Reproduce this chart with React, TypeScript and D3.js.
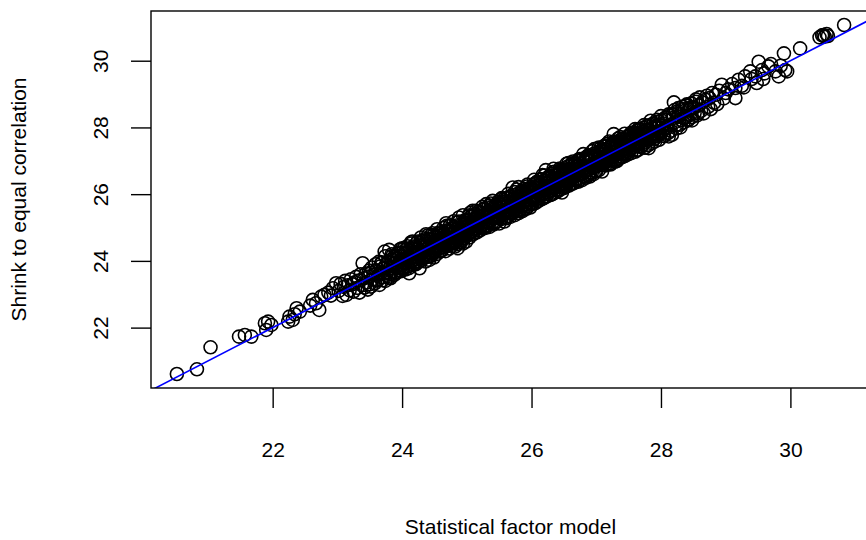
import React, { useEffect, useRef } from "react";
import * as d3 from "d3";

// each pair is [statistical factor model, shrink to equal correlation]
const lowTail = [
  [20.52, 20.61], [20.83, 20.75], [21.04, 21.41], [21.48, 21.73], [21.57, 21.78],
  [21.67, 21.73], [21.88, 22.13], [21.93, 22.18], [21.98, 22.08], [21.9, 21.93],
];

const from22 = [
  [22.24, 22.18], [22.26, 22.33], [22.31, 22.23], [22.37, 22.58], [22.42, 22.48], [22.34, 22.4],
  [22.62, 22.83], [22.67, 22.73], [22.72, 22.53], [22.75, 22.93], [22.58, 22.66], [22.8, 22.98],
  [22.86, 23.05], [22.93, 23.18], [22.98, 23.33], [22.9, 22.96],
  [23.02, 23.1], [23.05, 23.31], [23.08, 22.95], [23.1, 23.22], [23.12, 23.4], [23.14, 22.98],
  [23.16, 23.27], [23.19, 23.12], [23.21, 23.45], [23.23, 23.3], [23.25, 23.08], [23.27, 23.36],
  [23.29, 23.52], [23.31, 23.19], [23.33, 23.41], [23.34, 23.05], [23.36, 23.6], [23.38, 23.27],
  [23.39, 23.93], [23.41, 23.48], [23.42, 23.2], [23.44, 23.62], [23.45, 23.35], [23.47, 23.14],
  [23.48, 23.53], [23.49, 23.71], [23.5, 23.3],
  [23.51, 23.64], [23.52, 23.23], [23.53, 23.8], [23.55, 23.45], [23.56, 23.58], [23.58, 23.33],
  [23.59, 23.9], [23.6, 23.7], [23.62, 23.42], [23.63, 23.55], [23.65, 23.28], [23.66, 23.83],
  [23.67, 23.62], [23.69, 23.95], [23.7, 23.51], [23.71, 23.76], [23.73, 24.28], [23.74, 23.4],
  [23.75, 23.88], [23.76, 23.66], [23.78, 23.98], [23.79, 23.55], [23.8, 24.33], [23.81, 23.79],
  [23.82, 23.48], [23.84, 24.05], [23.85, 23.7], [23.86, 23.92], [23.88, 23.58], [23.89, 24.14],
  [23.9, 23.83], [23.91, 23.64], [23.93, 24.08], [23.94, 23.9], [23.95, 24.22], [23.96, 23.72],
  [23.97, 24.0], [23.98, 23.69], [23.99, 24.17], [23.99, 23.86],
];

const from24 = [
  [24.0, 24.25], [24.01, 23.79], [24.02, 24.06], [24.03, 24.38], [24.04, 23.92], [24.05, 23.74],
  [24.06, 24.21], [24.07, 24.02], [24.08, 24.44], [24.09, 23.84], [24.1, 24.13], [24.11, 23.63],
  [24.12, 24.3], [24.13, 23.96], [24.14, 24.52], [24.15, 24.08], [24.16, 24.58], [24.17, 23.88],
  [24.18, 24.27], [24.19, 24.03], [24.2, 24.41], [24.21, 23.99], [24.22, 24.19], [24.23, 24.55],
  [24.24, 23.95], [24.25, 24.34], [24.26, 24.1], [24.27, 23.78], [24.28, 24.47], [24.29, 24.21],
  [24.3, 24.02], [24.31, 24.6], [24.32, 24.29], [24.33, 24.08], [24.34, 24.43], [24.35, 24.17],
  [24.36, 23.98], [24.37, 24.8], [24.38, 24.36], [24.39, 24.12], [24.4, 24.52], [24.41, 24.25],
  [24.42, 24.03], [24.43, 24.66], [24.44, 24.31], [24.45, 24.15], [24.46, 24.49], [24.47, 24.83],
  [24.47, 24.22], [24.48, 24.38], [24.49, 24.1], [24.5, 24.62],
  [24.51, 24.3], [24.52, 24.72], [24.53, 24.45], [24.54, 24.21], [24.55, 24.58], [24.56, 24.36],
  [24.57, 24.8], [24.58, 24.28], [24.59, 24.66], [24.6, 24.47], [24.61, 24.32], [24.62, 24.85],
  [24.63, 24.55], [24.64, 24.4], [24.65, 24.73], [24.66, 24.49], [24.67, 24.29], [24.68, 25.13],
  [24.69, 24.62], [24.7, 24.44], [24.71, 24.91], [24.72, 24.58], [24.73, 24.37], [24.74, 24.79],
  [24.75, 24.53], [24.76, 24.95], [24.77, 24.45], [24.78, 24.68], [24.79, 24.52], [24.8, 25.02],
  [24.81, 24.6], [24.82, 24.43], [24.83, 24.87], [24.84, 24.66], [24.85, 24.5], [24.86, 24.38],
  [24.86, 24.98], [24.87, 24.72], [24.88, 25.3], [24.89, 24.61], [24.9, 24.83], [24.91, 24.55],
  [24.92, 25.08], [24.93, 24.76], [24.94, 24.52], [24.95, 24.94], [24.96, 24.69], [24.97, 25.16],
  [24.98, 24.8], [24.99, 24.58], [25.0, 25.04],
];

const from25 = [
  [25.01, 24.79], [25.02, 25.22], [25.03, 24.93], [25.04, 24.7], [25.05, 25.12], [25.06, 24.88],
  [25.07, 25.35], [25.08, 25.01], [25.09, 25.5], [25.1, 24.82], [25.11, 25.18], [25.12, 24.96],
  [25.13, 25.4], [25.14, 25.07], [25.15, 24.85], [25.16, 25.29], [25.17, 25.03], [25.18, 25.48],
  [25.19, 24.92], [25.2, 25.21], [25.21, 25.0], [25.22, 25.44], [25.23, 25.13], [25.24, 24.97],
  [25.25, 25.36], [25.26, 25.09], [25.27, 25.57], [25.28, 25.2], [25.29, 24.99], [25.3, 25.7],
  [25.31, 25.3], [25.32, 25.07], [25.33, 25.49], [25.34, 25.16], [25.35, 25.02], [25.36, 25.41],
  [25.37, 25.22], [25.38, 25.61], [25.39, 25.12], [25.4, 25.33], [25.41, 25.09], [25.42, 25.54],
  [25.43, 25.28], [25.44, 25.15], [25.45, 25.68], [25.46, 25.4], [25.47, 25.19], [25.48, 25.58],
  [25.49, 25.31], [25.5, 25.12],
  [25.51, 25.73], [25.52, 25.44], [25.53, 25.25], [25.54, 25.62], [25.55, 25.38], [25.56, 25.83],
  [25.57, 25.49], [25.58, 25.18], [25.59, 25.7], [25.6, 25.42], [25.61, 25.28], [25.62, 25.88],
  [25.63, 25.56], [25.64, 25.35], [25.65, 25.76], [25.66, 25.5], [25.67, 25.32], [25.68, 25.93],
  [25.69, 25.61], [25.7, 25.44], [25.71, 26.2], [25.72, 25.8], [25.73, 25.52], [25.74, 25.37],
  [25.75, 25.98], [25.76, 25.67], [25.77, 25.48], [25.78, 25.87], [25.79, 25.59], [25.8, 25.43],
  [25.81, 26.04], [25.82, 25.73], [25.83, 25.55], [25.84, 25.95], [25.85, 25.62], [25.86, 25.49],
  [25.87, 26.1], [25.88, 25.79], [25.89, 25.58], [25.9, 25.99], [25.91, 25.71], [25.92, 25.56],
  [25.93, 26.15], [25.94, 25.84], [25.95, 25.64], [25.96, 26.05], [25.97, 25.77], [25.98, 25.6],
  [25.99, 26.21], [26.0, 25.89],
];

const from26 = [
  [26.01, 25.7], [26.02, 26.12], [26.03, 25.84], [26.04, 26.3], [26.05, 25.96], [26.06, 25.73],
  [26.07, 26.2], [26.08, 25.91], [26.09, 26.38], [26.1, 26.04], [26.11, 25.8], [26.12, 26.27],
  [26.13, 25.98], [26.14, 26.45], [26.15, 26.09], [26.16, 25.85], [26.17, 26.33], [26.18, 26.02],
  [26.19, 25.88], [26.2, 26.4], [26.21, 26.14], [26.22, 26.72], [26.23, 25.93], [26.24, 26.35],
  [26.25, 26.06], [26.26, 26.52], [26.27, 26.19], [26.28, 25.97], [26.29, 26.42], [26.3, 26.11],
  [26.31, 26.6], [26.32, 26.25], [26.33, 26.01], [26.34, 26.48], [26.35, 26.17], [26.36, 26.67],
  [26.37, 26.3], [26.38, 26.06], [26.39, 26.55], [26.4, 26.23], [26.41, 26.09], [26.42, 26.61],
  [26.43, 26.36], [26.44, 26.14], [26.45, 26.7], [26.46, 26.28], [26.47, 26.05], [26.48, 26.57],
  [26.49, 26.33], [26.5, 26.18],
  [26.51, 26.74], [26.52, 26.41], [26.53, 26.22], [26.54, 26.63], [26.55, 26.35], [26.56, 26.83],
  [26.57, 26.48], [26.58, 26.26], [26.59, 26.7], [26.6, 26.43], [26.61, 26.88], [26.62, 26.55],
  [26.63, 26.31], [26.64, 26.77], [26.65, 26.5], [26.66, 26.34], [26.67, 26.95], [26.68, 26.62],
  [26.69, 26.4], [26.7, 26.85], [26.71, 26.57], [26.72, 26.37], [26.73, 26.99], [26.74, 26.68],
  [26.75, 26.45], [26.76, 26.91], [26.77, 26.63], [26.78, 26.42], [26.79, 27.06], [26.8, 26.74],
  [26.81, 26.52], [26.82, 26.97], [26.83, 26.68], [26.84, 26.49], [26.85, 27.12], [26.86, 26.8],
  [26.87, 26.56], [26.88, 27.03], [26.89, 26.75], [26.9, 26.53], [26.91, 27.15], [26.92, 26.86],
  [26.93, 26.63], [26.94, 27.08], [26.95, 26.79], [26.96, 26.6], [26.97, 27.22], [26.98, 26.92],
  [26.99, 26.68], [27.0, 27.14],
];

const from27 = [
  [27.01, 26.84], [27.02, 27.25], [27.03, 26.97], [27.04, 26.72], [27.05, 27.19], [27.06, 26.91],
  [27.07, 27.38], [27.08, 27.03], [27.09, 26.68], [27.1, 27.29], [27.11, 26.95], [27.12, 27.44],
  [27.13, 27.1], [27.14, 26.86], [27.15, 27.33], [27.16, 27.02], [27.17, 27.51], [27.18, 27.15],
  [27.19, 26.9], [27.2, 27.39], [27.21, 27.08], [27.22, 26.93], [27.23, 27.47], [27.24, 27.19],
  [27.25, 27.01], [27.26, 27.56], [27.27, 27.8], [27.28, 27.25], [27.29, 27.02], [27.3, 27.5],
  [27.31, 27.18], [27.32, 26.99], [27.33, 27.58], [27.34, 27.31], [27.35, 27.07], [27.36, 27.52],
  [27.37, 27.24], [27.38, 27.64], [27.39, 27.12], [27.4, 27.4], [27.41, 27.2], [27.42, 27.66],
  [27.43, 27.34], [27.44, 27.14], [27.45, 27.59], [27.46, 27.28], [27.47, 27.7], [27.48, 27.38],
  [27.49, 27.19], [27.5, 27.63],
  [27.51, 27.32], [27.52, 27.76], [27.53, 27.45], [27.54, 27.23], [27.55, 27.68], [27.56, 27.4],
  [27.58, 27.84], [27.59, 27.51], [27.6, 27.27], [27.61, 27.73], [27.62, 27.46], [27.63, 27.9],
  [27.64, 27.58], [27.65, 27.33], [27.66, 27.79], [27.67, 27.52], [27.68, 27.95], [27.69, 27.41],
  [27.7, 27.66], [27.71, 27.86], [27.72, 27.48], [27.73, 27.99], [27.74, 27.62], [27.75, 27.39],
  [27.76, 27.82], [27.77, 27.57], [27.78, 28.04], [27.79, 27.71], [27.8, 27.46], [27.81, 27.38],
  [27.82, 27.92], [27.83, 27.65], [27.84, 28.08], [27.85, 27.77], [27.86, 27.53], [27.87, 27.98],
  [27.88, 27.7], [27.89, 28.12], [27.9, 27.84], [27.91, 27.58], [27.92, 28.02], [27.93, 27.75],
  [27.95, 28.18], [27.96, 27.87], [27.97, 27.63], [27.98, 28.07], [27.99, 27.8],
];

const from28 = [
  [28.01, 28.21], [28.02, 27.9], [28.04, 28.12], [28.05, 27.74], [28.07, 28.3], [28.08, 28.01],
  [28.1, 28.24], [28.11, 27.83], [28.12, 27.73], [28.13, 28.35], [28.15, 28.07], [28.17, 27.78],
  [28.18, 28.4], [28.2, 28.75], [28.21, 28.15], [28.23, 28.46], [28.24, 27.97], [28.26, 28.33],
  [28.27, 28.58], [28.29, 28.08], [28.3, 28.41], [28.32, 28.22], [28.33, 28.62], [28.35, 28.15],
  [28.37, 28.5], [28.38, 28.3], [28.4, 28.69], [28.42, 28.24], [28.43, 28.55], [28.45, 28.37],
  [28.47, 28.72], [28.48, 28.31], [28.5, 28.6],
  [28.52, 28.43], [28.54, 28.77], [28.56, 28.36], [28.58, 28.66], [28.6, 28.9], [28.62, 28.5],
  [28.64, 28.75], [28.66, 28.42], [28.69, 28.83], [28.71, 28.95], [28.73, 28.62], [28.75, 28.88],
  [28.77, 28.55], [28.79, 29.03], [28.82, 28.74], [28.85, 28.98], [28.87, 28.7], [28.9, 29.1],
  [28.94, 29.28], [28.97, 28.87], [29.0, 29.03],
];

// further passes over the solid black core of the band
const denseCore = [
  [23.6, 23.72], [23.62, 23.41], [23.64, 23.97], [23.66, 23.61], [23.68, 23.95], [23.7, 23.42],
  [23.72, 23.8], [23.74, 24.14], [23.76, 23.62], [23.78, 23.97], [23.8, 23.5], [23.82, 23.84],
  [23.84, 24.2], [23.86, 23.77], [23.88, 24.12], [23.9, 23.66], [23.92, 24.07], [23.94, 24.25],
  [23.96, 23.78], [23.98, 24.03], [24.0, 24.38], [24.02, 23.76], [24.04, 24.25], [24.06, 23.95],
  [24.08, 24.37], [24.1, 23.78], [24.12, 24.22], [24.14, 24.56], [24.16, 24.0], [24.18, 24.35],
  [24.2, 23.93], [24.22, 24.26], [24.24, 24.58], [24.26, 24.19], [24.28, 24.54], [24.3, 24.08],
  [24.32, 24.45], [24.34, 24.64], [24.36, 24.17], [24.38, 24.45], [24.4, 24.77], [24.42, 24.13],
  [24.44, 24.64], [24.46, 24.34], [24.48, 24.76], [24.5, 24.25], [24.52, 24.63], [24.54, 24.95],
  [24.56, 24.41], [24.58, 24.76], [24.6, 24.29], [24.62, 24.65], [24.64, 24.99], [24.66, 24.58],
  [24.68, 24.91], [24.7, 24.47], [24.72, 24.86], [24.74, 25.06], [24.76, 24.59], [24.78, 24.84],
  [24.8, 25.19], [24.82, 24.55], [24.84, 25.06], [24.86, 24.76], [24.88, 25.18], [24.9, 24.57],
  [24.92, 25.01], [24.94, 25.37], [24.96, 24.83], [24.98, 25.14], [25.0, 24.74], [25.02, 25.07],
  [25.04, 25.37], [25.06, 25.0], [25.08, 25.33], [25.1, 24.89], [25.12, 25.24], [25.14, 25.5],
  [25.16, 24.98], [25.18, 25.37], [25.2, 24.91], [25.22, 25.23], [25.24, 25.62], [25.26, 25.17],
  [25.28, 25.55], [25.3, 25.06], [25.32, 25.47], [25.34, 25.65], [25.36, 25.21], [25.38, 25.46],
  [25.4, 25.8], [25.42, 25.12], [25.44, 25.65], [25.46, 25.35], [25.48, 25.77], [25.5, 25.3],
  [25.52, 25.62], [25.54, 25.88], [25.56, 25.4], [25.58, 25.76], [25.6, 25.32], [25.62, 25.66],
  [25.64, 26.01], [25.66, 25.59], [25.68, 25.92], [25.7, 25.45], [25.72, 25.85], [25.74, 26.06],
  [25.76, 25.57], [25.78, 25.84], [25.8, 26.21], [25.82, 25.51], [25.84, 26.04], [25.86, 25.74],
  [25.88, 26.16], [25.9, 25.68], [25.92, 26.03], [25.94, 26.29], [25.96, 25.82], [25.98, 26.15],
  [26.0, 25.73], [26.02, 26.05], [26.04, 26.43], [26.06, 25.98], [26.08, 26.34], [26.1, 25.87],
  [26.12, 26.26], [26.14, 26.44], [26.16, 25.99], [26.18, 26.25], [26.2, 26.56], [26.22, 25.93],
  [26.24, 26.46], [26.26, 26.16], [26.28, 26.55], [26.3, 25.98], [26.32, 26.41], [26.34, 26.76],
  [26.36, 26.23], [26.38, 26.57], [26.4, 26.14], [26.42, 26.47], [26.44, 26.77], [26.46, 26.41],
  [26.48, 26.73], [26.5, 26.29], [26.52, 26.64], [26.54, 26.91], [26.56, 26.38], [26.58, 26.74],
  [26.6, 26.3], [26.62, 26.64], [26.64, 26.98], [26.66, 26.57], [26.68, 26.91], [26.7, 26.46],
  [26.72, 26.85], [26.74, 27.05], [26.76, 26.6], [26.78, 26.86], [26.8, 27.2], [26.82, 26.54],
  [26.84, 27.05], [26.86, 26.75], [26.88, 27.17], [26.9, 26.65], [26.92, 27.02], [26.94, 27.29],
  [26.96, 26.81], [26.98, 27.16], [27.0, 26.69], [27.02, 27.06], [27.04, 27.4], [27.06, 26.99],
  [27.08, 27.32], [27.1, 26.88], [27.12, 27.26], [27.14, 27.46], [27.16, 26.97], [27.18, 27.24],
  [27.2, 27.58], [27.22, 26.89], [27.24, 27.44], [27.26, 27.14], [27.28, 27.55], [27.3, 27.04],
  [27.32, 27.43], [27.34, 27.67], [27.36, 27.22], [27.38, 27.55], [27.4, 27.11], [27.42, 27.45],
  [27.44, 27.81], [27.46, 27.38], [27.48, 27.73], [27.5, 27.27], [27.52, 27.64], [27.54, 27.84],
  [27.56, 27.39], [27.58, 27.65], [27.6, 27.95], [27.62, 27.32], [27.64, 27.83], [27.66, 27.56],
  [27.68, 27.94], [27.7, 27.43], [27.72, 27.81], [27.74, 28.07], [27.76, 27.63], [27.78, 27.93],
  [27.8, 27.48], [27.82, 27.83], [27.84, 28.2], [27.86, 27.8], [27.88, 28.11], [27.9, 27.66],
  [27.92, 28.05], [27.94, 28.23], [27.96, 27.78], [27.98, 28.06], [28.0, 28.34], [28.03, 27.75],
  [28.06, 28.24], [28.09, 27.97], [28.12, 28.39], [28.15, 27.9], [28.18, 28.28], [28.21, 28.52],
  [28.24, 28.08], [28.27, 28.32], [28.3, 28.0], [28.33, 28.55], [28.36, 28.27], [28.39, 28.65],
  [28.42, 28.21], [28.45, 28.59], [28.48, 28.21], [28.51, 28.58], [28.54, 28.84], [28.57, 28.42],
];

const denseCore2 = [
  [23.81, 23.61], [23.85, 24.15], [23.89, 23.94], [23.93, 23.83], [23.97, 24.35], [24.01, 23.74],
  [24.05, 24.23], [24.09, 24.09], [24.13, 23.97], [24.17, 24.43], [24.21, 23.9], [24.25, 24.37],
  [24.29, 24.7], [24.33, 24.27], [24.37, 24.59], [24.41, 24.18], [24.45, 24.78], [24.49, 24.57],
  [24.53, 24.4], [24.57, 24.85], [24.61, 24.32], [24.65, 24.8], [24.69, 25.05], [24.73, 24.69],
  [24.77, 24.98], [24.81, 24.62], [24.85, 25.16], [24.89, 24.91], [24.93, 24.68], [24.97, 25.22],
  [25.01, 24.89], [25.05, 25.44], [25.09, 24.79], [25.13, 25.29], [25.17, 25.23], [25.21, 25.04],
  [25.25, 25.54], [25.29, 25.03], [25.33, 25.44], [25.37, 25.72], [25.41, 25.33], [25.45, 25.65],
  [25.49, 25.28], [25.53, 25.85], [25.57, 25.61], [25.61, 25.47], [25.65, 25.92], [25.69, 25.41],
  [25.73, 25.87], [25.77, 26.14], [25.81, 25.76], [25.85, 26.08], [25.89, 25.67], [25.93, 26.23],
  [25.97, 26.04], [26.01, 25.86], [26.05, 26.31], [26.09, 25.79], [26.13, 26.3], [26.17, 26.57],
  [26.21, 26.14], [26.25, 26.46], [26.29, 26.09], [26.33, 26.66], [26.37, 26.4], [26.41, 26.25],
  [26.45, 26.73], [26.49, 26.22], [26.53, 26.66], [26.57, 26.93], [26.61, 26.58], [26.65, 26.87],
  [26.69, 26.45], [26.73, 27.04], [26.77, 26.83], [26.81, 26.68], [26.85, 27.1], [26.89, 26.6],
  [26.93, 27.08], [26.97, 27.35], [27.01, 26.95], [27.05, 27.25], [27.09, 26.88], [27.13, 27.42],
  [27.17, 27.18], [27.21, 27.03], [27.25, 27.49], [27.29, 26.98], [27.33, 27.45], [27.37, 27.71],
  [27.41, 27.32], [27.45, 27.64], [27.49, 27.26], [27.53, 27.8], [27.57, 27.62], [27.61, 27.46],
  [27.65, 27.95], [27.69, 27.43], [27.73, 27.89], [27.77, 27.69],
];

const highTail = [
  [29.04, 29.14], [29.1, 29.3], [29.15, 29.18], [29.15, 28.88], [29.2, 29.43], [29.25, 29.25],
  [29.28, 29.2], [29.3, 29.53], [29.38, 29.68], [29.4, 29.45], [29.46, 29.53], [29.48, 29.33],
  [29.51, 29.97], [29.56, 29.72], [29.58, 29.45], [29.6, 29.62], [29.66, 29.83], [29.7, 29.9],
  [29.77, 29.68], [29.82, 29.53], [29.85, 29.85], [29.9, 30.22], [29.92, 29.72], [29.95, 29.68],
  [30.15, 30.37], [30.45, 30.7], [30.49, 30.76], [30.51, 30.77], [30.53, 30.72], [30.56, 30.8],
  [30.58, 30.74], [30.83, 31.07],
];

const xTicks = [22, 24, 26, 28, 30];
const yTicks = [22, 24, 26, 28, 30];
const xLabel = "Statistical factor model";
const yLabel = "Shrink to equal correlation";

const FONT = "'Liberation Sans', Arial, Helvetica, sans-serif";

function ScatterPlot(props) {
  const ref = useRef(null);

  useEffect(() => {
    const width = props.width;
    const height = props.height;
    const data = [
      ...lowTail, ...from22, ...from24, ...from25, ...from26, ...from27, ...from28,
      ...denseCore, ...denseCore2, ...highTail,
    ];

    const svg = d3.select(ref.current);
    svg.selectAll("*").remove();

    // plot region (the right side runs just past the picture)
    const left = 151, right = 870, top = 11, bottom = 388;

    const xScale = d3.scaleLinear().domain([20.12, 31.23]).range([left, right]);
    const yScale = d3.scaleLinear().domain([20.19, 31.49]).range([bottom, top]);

    svg.append("rect").attr("width", width).attr("height", height).attr("fill", "white");

    svg
      .append("defs")
      .append("clipPath")
      .attr("id", "plotClip")
      .append("rect")
      .attr("x", left)
      .attr("y", top)
      .attr("width", right - left)
      .attr("height", bottom - top);

    // points
    svg
      .append("g")
      .attr("clip-path", "url(#plotClip)")
      .selectAll("circle")
      .data(data)
      .join("circle")
      .attr("cx", (d) => xScale(d[0]))
      .attr("cy", (d) => yScale(d[1]))
      .attr("r", 6.5)
      .attr("fill", "none")
      .attr("stroke", "black")
      .attr("stroke-width", 1.6);

    // y = x reference line
    const dom = xScale.domain();
    svg
      .append("line")
      .attr("clip-path", "url(#plotClip)")
      .attr("x1", xScale(dom[0]))
      .attr("y1", yScale(dom[0]))
      .attr("x2", xScale(dom[1]))
      .attr("y2", yScale(dom[1]))
      .attr("stroke", "#0000ff")
      .attr("stroke-width", 1.6);

    // box
    svg
      .append("rect")
      .attr("x", left)
      .attr("y", top)
      .attr("width", right - left)
      .attr("height", bottom - top)
      .attr("fill", "none")
      .attr("stroke", "black")
      .attr("stroke-width", 1.4);

    // x axis
    const gx = svg
      .append("g")
      .attr("transform", `translate(0,${bottom})`)
      .call(d3.axisBottom(xScale).tickValues(xTicks).tickSize(20).tickSizeOuter(0).tickPadding(34));
    gx.select(".domain").remove();
    gx.selectAll("line").attr("stroke", "black").attr("stroke-width", 1.4);
    gx.selectAll("text")
      .attr("fill", "black")
      .attr("font-size", "21px")
      .attr("font-family", FONT);

    // y axis, labels turned like R does
    const gy = svg
      .append("g")
      .attr("transform", `translate(${left},0)`)
      .call(d3.axisLeft(yScale).tickValues(yTicks).tickSize(20).tickSizeOuter(0));
    gy.select(".domain").remove();
    gy.selectAll("line").attr("stroke", "black").attr("stroke-width", 1.4);
    gy.selectAll("text")
      .attr("x", 0)
      .attr("y", -43)
      .attr("dy", null)
      .attr("transform", "rotate(-90)")
      .attr("text-anchor", "middle")
      .attr("fill", "black")
      .attr("font-size", "21px")
      .attr("font-family", FONT);

    // axis titles
    svg
      .append("text")
      .attr("x", (left + right) / 2)
      .attr("y", 534)
      .attr("text-anchor", "middle")
      .attr("font-size", "21px")
      .attr("font-family", FONT)
      .text(xLabel);

    svg
      .append("text")
      .attr("transform", `translate(26,${(top + bottom) / 2}) rotate(-90)`)
      .attr("text-anchor", "middle")
      .attr("font-size", "21px")
      .attr("font-family", FONT)
      .text(yLabel);
  }, []);

  return (
    <svg
      ref={ref}
      width={props.width}
      height={props.height}
      style={{ position: "absolute", left: 0, top: 0, display: "block" }}
    ></svg>
  );
}

export default function App() {
  return <ScatterPlot width={866} height={540} />;
}
